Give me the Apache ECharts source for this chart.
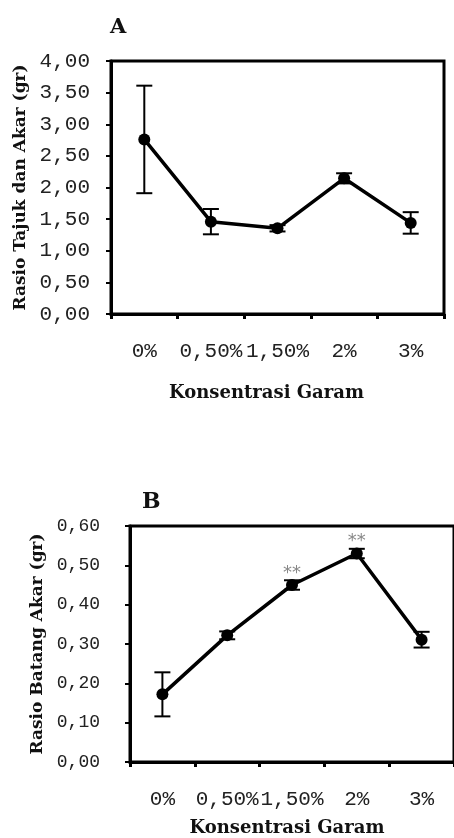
<!DOCTYPE html>
<html>
<head>
<meta charset="utf-8">
<script src="https://cdn.jsdelivr.net/npm/echarts@6/dist/echarts.min.js"></script>
<style>html,body{margin:0;padding:0;background:#fff;}#c{width:454px;height:838px;}</style>
</head>
<body>
<div id="c"></div>
<script>
const categories = ['0%', '0,50%', '1,50%', '2%', '3%'];
const ratioA = [2.76, 1.46, 1.355, 2.145, 1.44];
const errA = [0.85, 0.2, 0.05, 0.08, 0.17];
const ratioB = [0.172, 0.322, 0.45, 0.53, 0.311];
const errB = [0.056, 0.01, 0.012, 0.012, 0.02];
const sigB = ['', '', '**', '**', ''];

const chart = echarts.init(document.getElementById('c'));
const fmt = v => v.toFixed(2).replace('.', ',');
const serifBold = { fontFamily: 'DejaVu Serif', fontWeight: 'bold', color: '#111' };

function errData(mean, err) {
  return mean.map((m, i) => [i, m - err[i], m + err[i]]);
}
function errRender(params, api) {
  const lo = api.coord([api.value(0), api.value(1)]);
  const hi = api.coord([api.value(0), api.value(2)]);
  const w = 8;
  const st = { stroke: '#000', lineWidth: 2 };
  return {
    type: 'group',
    children: [
      { type: 'line', shape: { x1: lo[0], y1: lo[1], x2: hi[0], y2: hi[1] }, style: st },
      { type: 'line', shape: { x1: lo[0] - w, y1: lo[1], x2: lo[0] + w, y2: lo[1] }, style: st },
      { type: 'line', shape: { x1: hi[0] - w, y1: hi[1], x2: hi[0] + w, y2: hi[1] }, style: st }
    ]
  };
}

function xAxis(gridIndex, gap, padRight) {
  return {
    type: 'category', gridIndex, data: categories, boundaryGap: true,
    axisLine: { lineStyle: { color: '#000', width: 3 } },
    axisTick: { show: true, length: 5, lineStyle: { color: '#000', width: 3 } },
    axisLabel: { interval: 0, hideOverlap: false, margin: 27, fontFamily: 'Liberation Mono', fontSize: 21, color: '#222' },
    name: 'Konsentrasi Garam', nameLocation: 'middle', nameGap: gap,
    nameTextStyle: Object.assign({ fontSize: 18, padding: [0, padRight, 0, 0] }, serifBold),
    splitLine: { show: false }
  };
}
function yAxis(gridIndex, max, interval, name, gap, labelSize, labelMargin) {
  return {
    type: 'value', gridIndex, min: 0, max, interval,
    axisLine: { show: true, lineStyle: { color: '#000', width: 3 } },
    axisTick: { show: true, length: 5, lineStyle: { color: '#000', width: 2 } },
    axisLabel: { formatter: fmt, margin: labelMargin, fontFamily: 'Liberation Mono', fontSize: labelSize, color: '#222' },
    splitLine: { show: false },
    name, nameLocation: 'middle', nameGap: gap,
    nameTextStyle: Object.assign({ fontSize: 17 }, serifBold)
  };
}

chart.setOption({
  backgroundColor: '#fff',
  animation: false,
  title: [
    { text: 'A', left: 105, top: 12, textStyle: { fontFamily: 'DejaVu Serif', fontWeight: 'bold', fontSize: 21, color: '#111' } },
    { text: 'B', left: 137, top: 486, textStyle: { fontFamily: 'DejaVu Serif', fontWeight: 'bold', fontSize: 22, color: '#111' } }
  ],
  grid: [
    { left: 111, top: 61, width: 333, height: 253, show: true, borderColor: '#000', borderWidth: 3, backgroundColor: '#fff' },
    { left: 130, top: 526, width: 333, height: 236, show: true, borderColor: '#000', borderWidth: 3, backgroundColor: '#fff' }
  ],
  xAxis: [xAxis(0, 70, 22), xAxis(1, 57, 10)],
  yAxis: [
    yAxis(0, 4, 0.5, 'Rasio Tajuk dan Akar (gr)', 76, 21, 21),
    yAxis(1, 0.6, 0.1, 'Rasio Batang Akar (gr)', 84, 18, 30)
  ],
  series: [
    { type: 'custom', xAxisIndex: 0, yAxisIndex: 0, renderItem: errRender, data: errData(ratioA, errA), z: 3 },
    { type: 'line', xAxisIndex: 0, yAxisIndex: 0, data: ratioA, symbol: 'circle', symbolSize: 12,
      lineStyle: { color: '#000', width: 3.5 }, itemStyle: { color: '#000' }, z: 4 },
    { type: 'custom', xAxisIndex: 1, yAxisIndex: 1, renderItem: errRender, data: errData(ratioB, errB), z: 3 },
    { type: 'line', xAxisIndex: 1, yAxisIndex: 1, symbol: 'circle', symbolSize: 12,
      data: ratioB.map((v, i) => ({ value: v, label: { show: sigB[i] !== '', formatter: sigB[i] } })),
      label: { position: 'top', distance: -3, fontFamily: 'DejaVu Sans', fontSize: 18, color: '#888' },
      lineStyle: { color: '#000', width: 3.5 }, itemStyle: { color: '#000' }, z: 4 }
  ]
});
</script>
</body>
</html>
